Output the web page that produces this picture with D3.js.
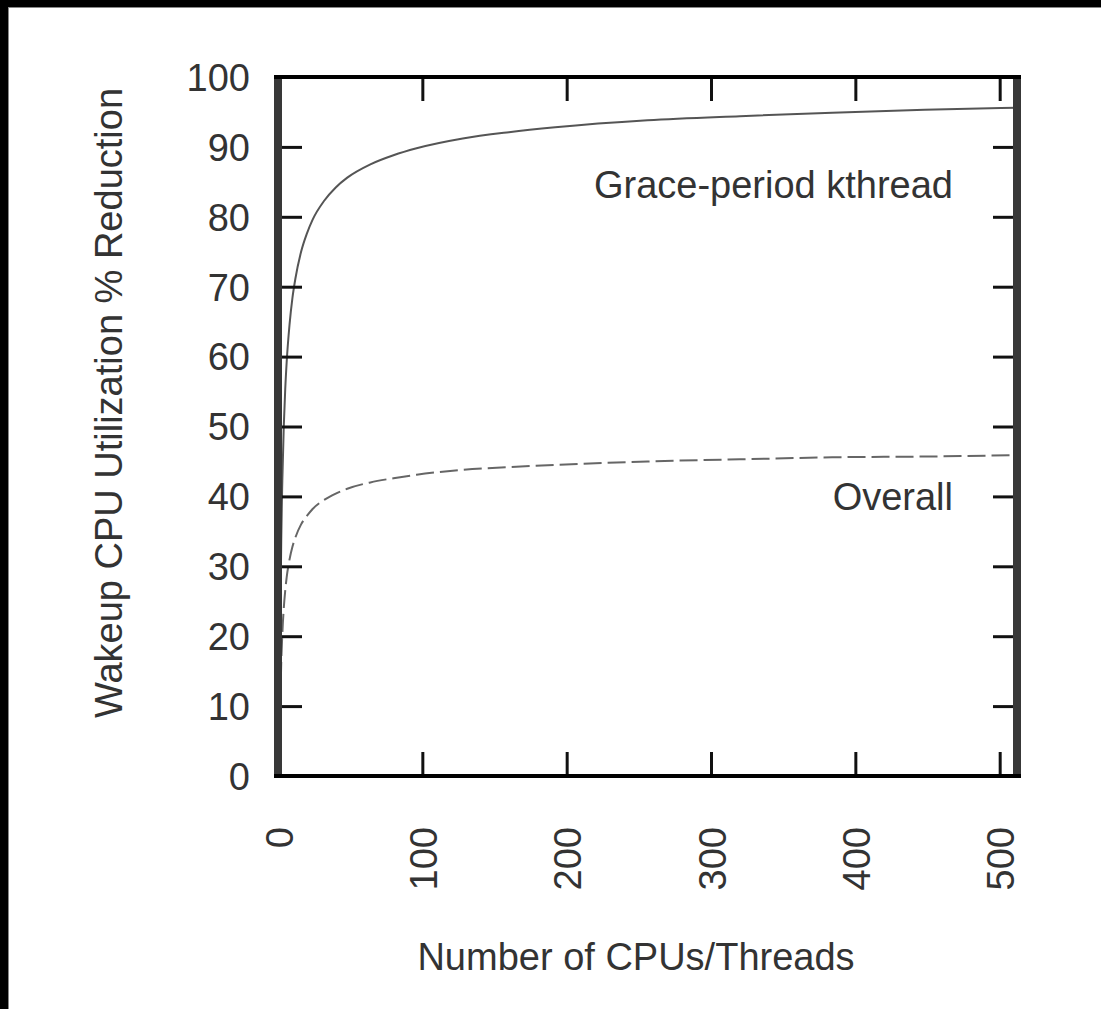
<!DOCTYPE html>
<html>
<head>
<meta charset="utf-8">
<script src="https://d3js.org/d3.v7.min.js"></script>
<style>
  body { margin: 0; background: #fff; }
  svg text { font-family: "Liberation Sans", Arial, sans-serif; }
</style>
</head>
<body>
<div id="chart"></div>
<script>
// number of CPUs / threads
var cpus = [1, 2, 3, 4, 5, 6, 8, 10, 12, 16, 20, 24, 32, 40, 48, 64, 80, 96, 128, 160, 192, 256, 320, 384, 448, 512];
// % reduction, grace-period kthread (solid)
var gpKthread = [0, 29.3, 42.3, 50, 55.3, 59.2, 64.6, 68.4, 71.1, 75, 77.6, 79.6, 82.3, 84.2, 85.6, 87.5, 88.8, 89.8, 91.2, 92.1, 92.8, 93.8, 94.4, 94.9, 95.3, 95.6];
// % reduction, overall (dashed)
var overall = [0, 14.1, 20.3, 24.0, 26.5, 28.4, 31.0, 32.8, 34.1, 36.0, 37.2, 38.2, 39.5, 40.4, 41.1, 42.0, 42.6, 43.1, 43.8, 44.2, 44.5, 45.0, 45.3, 45.6, 45.7, 45.9];
var xTicks = [0, 100, 200, 300, 400, 500];
var yTicks = [0, 10, 20, 30, 40, 50, 60, 70, 80, 90, 100];

var width = 1101, height = 1009;
var margin = {top: 77, right: 84, bottom: 233, left: 278};
var fontSize = 38;

var svg = d3.select("#chart").append("svg")
    .attr("width", width)
    .attr("height", height);

svg.append("rect").attr("width", width).attr("height", height).attr("fill", "#fff");

// black border on left and top like the source image
svg.append("rect").attr("x", 0).attr("y", 0).attr("width", 8).attr("height", height).attr("fill", "#000");
svg.append("rect").attr("x", 0).attr("y", 0).attr("width", width).attr("height", 7).attr("fill", "#000");
svg.append("rect").attr("x", 8).attr("y", 7).attr("width", 1).attr("height", height).attr("fill", "#888");
svg.append("rect").attr("x", 8).attr("y", 7).attr("width", width).attr("height", 1).attr("fill", "#888");

var x = d3.scaleLinear()
    .domain([0, 512])
    .range([margin.left, width - margin.right]);

var y = d3.scaleLinear()
    .domain([0, 100])
    .range([height - margin.bottom, margin.top]);

var x0 = x.range()[0], x1 = x.range()[1];
var y0 = y.range()[0], y1 = y.range()[1];

// curves
var line = d3.line()
    .x(function (d, i) { return x(cpus[i]); })
    .y(function (d) { return y(d); })
    .curve(d3.curveMonotoneX);

svg.append("path")
    .datum(gpKthread)
    .attr("d", line)
    .attr("fill", "none")
    .attr("stroke", "#555")
    .attr("stroke-width", 2);

svg.append("path")
    .datum(overall)
    .attr("d", line)
    .attr("fill", "none")
    .attr("stroke", "#666")
    .attr("stroke-width", 2)
    .attr("stroke-dasharray", "18,6");

// axes (ticks point inward)
function styleAxis(g) {
    g.select(".domain").remove();
    g.selectAll(".tick line").attr("stroke", "#111").attr("stroke-width", 3);
    g.selectAll(".tick text")
        .attr("fill", "#333")
        .style("font-size", fontSize + "px");
}

var yLeft = svg.append("g")
    .attr("transform", "translate(" + x0 + ",0)")
    .call(d3.axisLeft(y).tickValues(yTicks).tickSize(-24).tickPadding(28))
    .call(styleAxis);
yLeft.selectAll(".tick text").attr("dy", "0.35em");

svg.append("g")
    .attr("transform", "translate(" + x1 + ",0)")
    .call(d3.axisRight(y).tickValues(yTicks).tickSize(-24).tickFormat(""))
    .call(styleAxis);

svg.append("g")
    .attr("transform", "translate(0," + y1 + ")")
    .call(d3.axisTop(x).tickValues(xTicks).tickSize(-24).tickFormat(""))
    .call(styleAxis);

var xBottom = svg.append("g")
    .attr("transform", "translate(0," + y0 + ")")
    .call(d3.axisBottom(x).tickValues(xTicks).tickSize(-24))
    .call(styleAxis);
xBottom.selectAll(".tick text")
    .attr("transform", "rotate(-90)")
    .attr("x", -51)
    .attr("y", 14)
    .attr("dy", 0)
    .attr("text-anchor", "end");

// frame
svg.append("line").attr("x1", x0).attr("x2", x0).attr("y1", y1 - 2).attr("y2", y0 + 2)
    .attr("stroke", "#383838").attr("stroke-width", 8);
svg.append("line").attr("x1", x1).attr("x2", x1).attr("y1", y1 - 2).attr("y2", y0 + 2)
    .attr("stroke", "#383838").attr("stroke-width", 8);
svg.append("line").attr("x1", x0 - 4).attr("x2", x1 + 4).attr("y1", y1).attr("y2", y1)
    .attr("stroke", "#000").attr("stroke-width", 4);
svg.append("line").attr("x1", x0 - 4).attr("x2", x1 + 4).attr("y1", y0).attr("y2", y0)
    .attr("stroke", "#000").attr("stroke-width", 4);

// series labels
svg.append("text")
    .attr("x", 953).attr("y", 198)
    .attr("text-anchor", "end")
    .attr("fill", "#333")
    .style("font-size", fontSize + "px")
    .text("Grace-period kthread");

svg.append("text")
    .attr("x", 953).attr("y", 510)
    .attr("text-anchor", "end")
    .attr("fill", "#333")
    .style("font-size", fontSize + "px")
    .text("Overall");

// axis titles
svg.append("text")
    .attr("transform", "translate(122,403) rotate(-90)")
    .attr("text-anchor", "middle")
    .attr("fill", "#333")
    .style("font-size", fontSize + "px")
    .text("Wakeup CPU Utilization % Reduction");

svg.append("text")
    .attr("x", 636).attr("y", 970)
    .attr("text-anchor", "middle")
    .attr("fill", "#333")
    .style("font-size", fontSize + "px")
    .text("Number of CPUs/Threads");
</script>
</body>
</html>
